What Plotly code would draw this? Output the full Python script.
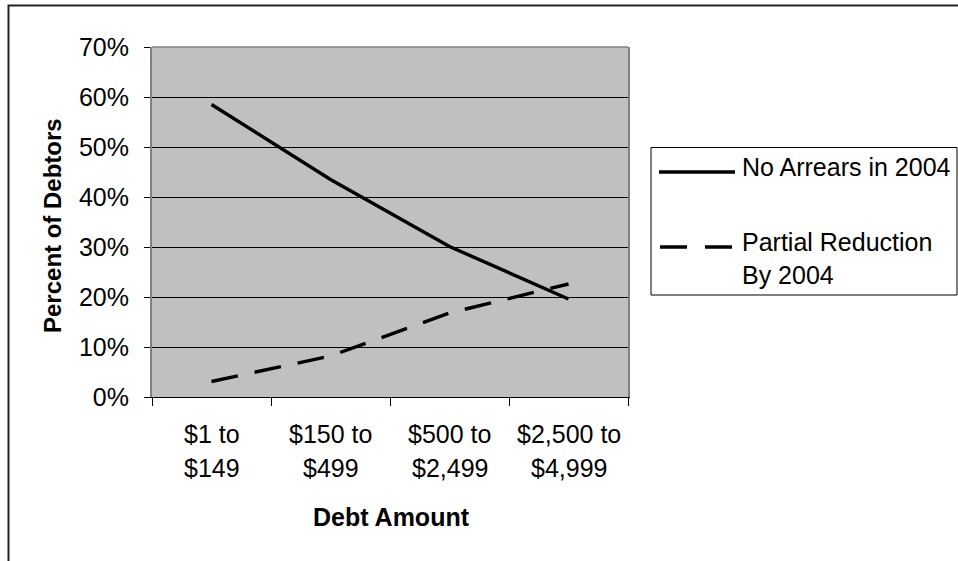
import plotly.graph_objects as go

categories = ["$1 to $149", "$150 to $499", "$500 to $2,499", "$2,500 to $4,999"]
label_line1 = ["$1 to", "$150 to", "$500 to", "$2,500 to"]
label_line2 = ["$149", "$499", "$2,499", "$4,999"]
no_arrears = [0.585, 0.435, 0.301, 0.196]
partial_reduction = [0.031, 0.082, 0.168, 0.226]
series_names = ["No Arrears in 2004", "Partial Reduction<br>By 2004"]
y_ticks = [0, 0.1, 0.2, 0.3, 0.4, 0.5, 0.6, 0.7]

FONT = "Liberation Sans, Arial, sans-serif"
W, H = 958, 561
L, R, T, B = 152, 330, 47, 164
PW, PH = W - L - R, H - T - B


def px(x):
    return (x - L) / PW


def py(y):
    return (H - B - y) / PH


fig = go.Figure()
fig.add_trace(go.Scatter(x=categories, y=no_arrears, mode="lines",
                         line=dict(color="black", width=3.4),
                         name=series_names[0], showlegend=False))
fig.add_trace(go.Scatter(x=categories, y=partial_reduction, mode="lines",
                         line=dict(color="black", width=3.4, dash="27px,17px"),
                         name=series_names[1], showlegend=False))

annotations = []
for cat, l1, l2 in zip(categories, label_line1, label_line2):
    annotations.append(dict(x=cat, xref="x", y=py(434), yref="paper", text=l1,
                            showarrow=False, xanchor="center", yanchor="middle",
                            font=dict(family=FONT, size=25, color="black")))
    annotations.append(dict(x=cat, xref="x", y=py(468), yref="paper", text=l2,
                            showarrow=False, xanchor="center", yanchor="middle",
                            font=dict(family=FONT, size=25, color="black")))

annotations.append(dict(x=px(391), y=py(517), xref="paper", yref="paper",
                        text="<b>Debt Amount</b>", showarrow=False,
                        xanchor="center", yanchor="middle",
                        font=dict(family=FONT, size=25, color="black")))
annotations.append(dict(x=px(52), y=py(226), xref="paper", yref="paper",
                        text="<b>Percent of Debtors</b>", showarrow=False,
                        textangle=-90, xanchor="center", yanchor="middle",
                        font=dict(family=FONT, size=24, color="black")))
# legend texts
annotations.append(dict(x=px(740), y=py(167), xref="paper", yref="paper",
                        text=series_names[0], showarrow=False,
                        xanchor="left", yanchor="middle", align="left",
                        font=dict(family=FONT, size=25, color="black")))
annotations.append(dict(x=px(740), y=py(258), xref="paper", yref="paper",
                        text=series_names[1], showarrow=False,
                        xanchor="left", yanchor="middle", align="left",
                        font=dict(family=FONT, size=25, color="black")))

shapes = [
    # outer chart border
    dict(type="rect", xref="paper", yref="paper", x0=px(8.5), x1=px(990),
         y0=py(600), y1=py(5.5), line=dict(color="#222222", width=2), layer="below"),
    # plot area top border
    dict(type="line", xref="paper", yref="paper", x0=0, x1=1, y0=1, y1=1,
         line=dict(color="#808080", width=1.5), layer="above"),
    # legend box
    dict(type="rect", xref="paper", yref="paper", x0=px(651), x1=px(957),
         y0=py(295), y1=py(147.5), line=dict(color="black", width=1), layer="above"),
    # legend samples
    dict(type="line", xref="paper", yref="paper", x0=px(659), x1=px(735),
         y0=py(172), y1=py(172), line=dict(color="black", width=3.4)),
    dict(type="line", xref="paper", yref="paper", x0=px(660), x1=px(735),
         y0=py(247), y1=py(247), line=dict(color="black", width=3.4, dash="27px,18px")),
]

fig.update_layout(
    width=W, height=H,
    margin=dict(l=L, r=R, t=T, b=B, pad=0),
    paper_bgcolor="white",
    plot_bgcolor="#C0C0C0",
    font=dict(family=FONT, size=25, color="black"),
    annotations=annotations,
    shapes=shapes,
    xaxis=dict(type="category", categoryorder="array", categoryarray=categories,
               range=[-0.5, 3.5], tickson="boundaries", ticks="outside", ticklen=8,
               tickcolor="black", tickwidth=1, showticklabels=False,
               showline=True, linecolor="black", linewidth=1, showgrid=False,
               zeroline=False, fixedrange=True),
    yaxis=dict(range=[0, 0.7], tickvals=y_ticks, tickformat=".0%",
               ticks="outside", ticklen=6, tickcolor="black", tickwidth=1,
               ticklabelstandoff=10,
               tickfont=dict(family=FONT, size=25, color="black"),
               showline=True, linecolor="#808080", linewidth=2, mirror=True,
               showgrid=True, gridcolor="black", gridwidth=1, zeroline=False,
               fixedrange=True),
)

fig.write_html("out.html")
